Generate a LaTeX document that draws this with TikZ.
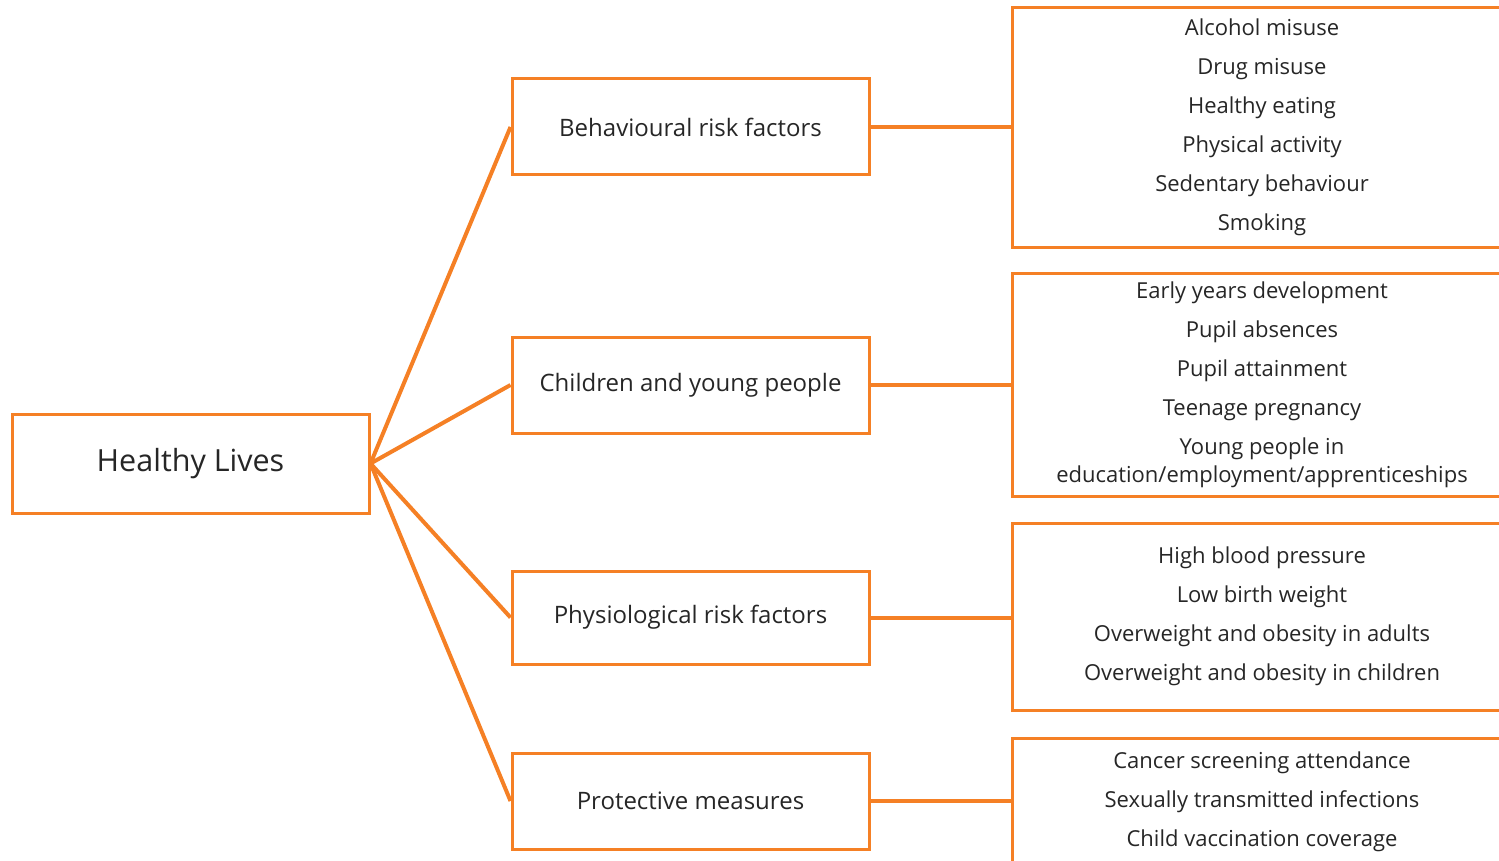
\documentclass[tikz,border=0pt]{standalone}
\usepackage{fontspec}
\setmainfont{Open Sans}
\usetikzlibrary{positioning}
\definecolor{hlOrange}{HTML}{F58025}
\definecolor{hlText}{HTML}{262626}

\begin{document}
\begin{tikzpicture}[x=1pt,y=-1pt,
  box/.style={draw=hlOrange,line width=3pt,inner sep=0pt,text=hlText,align=center},
  link/.style={draw=hlOrange,line width=4pt},
  listfont/.style={font=\fontsize{22}{28}\selectfont}]
  \useasboundingbox (0,0) rectangle (1499,861);
  % root on the left, four topics in the middle, indicator lists on the right (cut at the page edge)
  \node[box,minimum width=357pt,minimum height=99pt,font=\fontsize{30.5}{36}\selectfont] (root) at (190.5,463.5) {Healthy Lives};
  \foreach \name/\y/\h/\lab/\ly/\lh/\items in {
      behav/127/96/{Behavioural risk factors}/127.5/239/{Alcohol misuse\\[11pt]Drug misuse\\[11pt]Healthy eating\\[11pt]Physical activity\\[11pt]Sedentary behaviour\\[11pt]Smoking},
      child/385/96/{Children and young people}/384.5/223/{Early years development\\[11pt]Pupil absences\\[11pt]Pupil attainment\\[11pt]Teenage pregnancy\\[11pt]Young people in\\education/employment/apprenticeships},
      physio/617.5/93/{Physiological risk factors}/616.5/187/{High blood pressure\\[11pt]Low birth weight\\[11pt]Overweight and obesity in adults\\[11pt]Overweight and obesity in children},
      protect/801/96/{Protective measures}/802/128/{Cancer screening attendance\\[11pt]Sexually transmitted infections\\[11pt]Child vaccination coverage}}{
    \node[box,minimum width=357pt,minimum height=\h pt,font=\fontsize{24}{29}\selectfont] (\name) at (690.5,\y) {\lab};
    \node[box,listfont,minimum width=500pt,minimum height=\lh pt] (\name-list) at (1262,\ly) {\items};
    \draw[link] (root.east) -- (\name.west);
    \draw[link] (\name.east) -- (\name.east -| \name-list.west);
  }
\end{tikzpicture}
\end{document}
